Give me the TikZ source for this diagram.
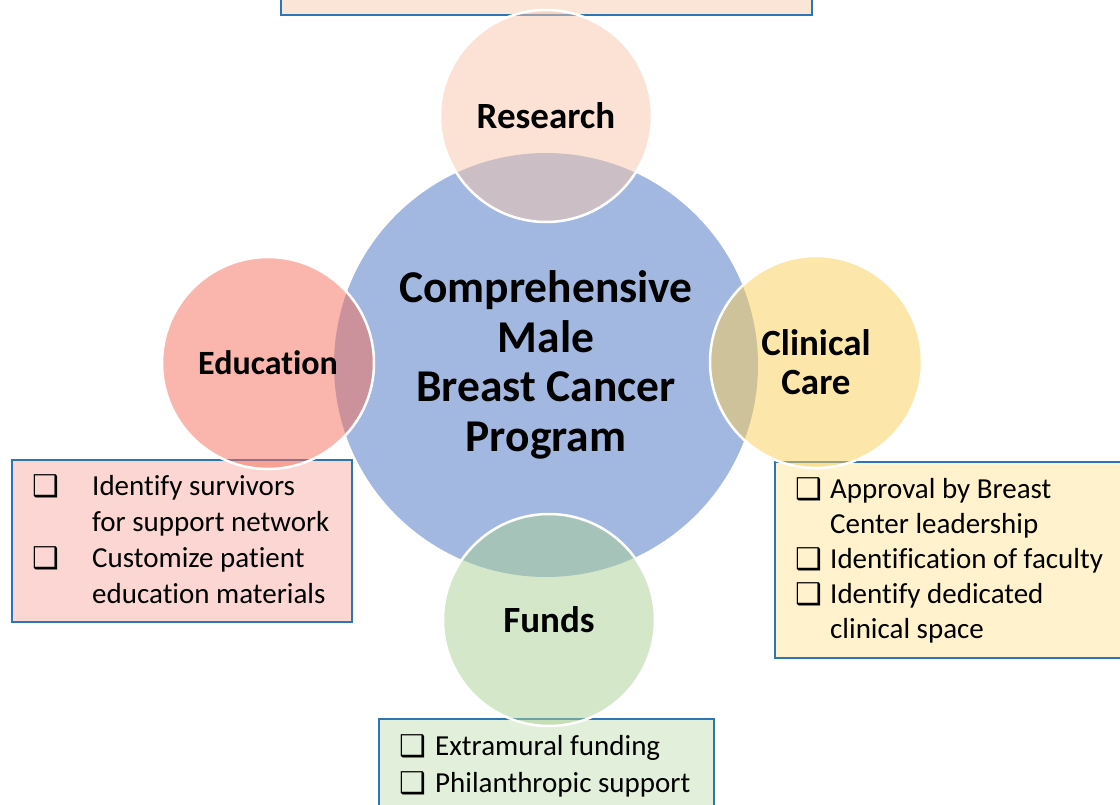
\documentclass[tikz,border=0pt]{standalone}
\usepackage{fontspec}
\setmainfont{Carlito}[Ligatures=NoCommon]
\newfontfamily\symfont{DejaVu Sans}
\definecolor{cblue}{RGB}{162,184,224}
\definecolor{cpeach}{RGB}{247,197,171}
\definecolor{cpink}{RGB}{245,109,89}
\definecolor{cgold}{RGB}{251,205,85}
\definecolor{cgreen}{RGB}{171,207,147}
\definecolor{bpeach}{RGB}{251,229,214}
\definecolor{bpink}{RGB}{252,214,210}
\definecolor{bgold}{RGB}{255,242,204}
\definecolor{bgreen}{RGB}{226,239,218}
\definecolor{cborder}{RGB}{46,117,182}
\begin{document}
\begin{tikzpicture}[x=1pt,y=-1pt,
  bigc/.style={circle, minimum size=424pt, inner sep=0pt, fill=cblue, align=center,
    font=\fontsize{45.5}{49.5}\selectfont\bfseries},
  smallc/.style={circle, minimum size=212pt, inner sep=0pt, fill opacity=0.5, text opacity=1,
    draw=white, draw opacity=1, line width=2.5pt, align=center,
    font=\fontsize{37}{39}\selectfont\bfseries},
  infobox/.style={draw=cborder, line width=1.5pt, inner sep=0pt},
  itemtext/.style={anchor=base west, inner sep=0pt, font=\fontsize{29}{35}\selectfont},
  bul/.style={anchor=base west, inner sep=0pt, font=\symfont\bfseries\fontsize{30}{30}\selectfont}
]
\useasboundingbox (0,0) rectangle (1120,804);
% boxes
\node[infobox, fill=bpeach, minimum width=531pt, minimum height=40pt] (resbox) at (546.5,-5) {};
\node[infobox, fill=bpink, minimum width=340pt, minimum height=162pt] (edubox) at (182,541) {};
\node[infobox, fill=bgold, minimum width=360pt, minimum height=196pt] (clinbox) at (955,560) {};
\node[infobox, fill=bgreen, minimum width=335pt, minimum height=110pt] (fundbox) at (546.5,774) {};
% box texts
\node[bul] (eb1) at (32,496) {❑};
\node[itemtext] (et1) at (92,495) {Identify survivors};
\node[itemtext] (et2) at (92,531) {for support network};
\node[bul] (eb2) at (32,568) {❑};
\node[itemtext] (et3) at (92,567) {Customize patient};
\node[itemtext] (et4) at (92,603) {education materials};
\node[bul] (cb1) at (795,499) {❑};
\node[itemtext] (ct1) at (830,498) {Approval by Breast};
\node[itemtext] (ct2) at (830,533) {Center leadership};
\node[bul] (cb2) at (795,569) {❑};
\node[itemtext] (ct3) at (830,568) {Identification of faculty};
\node[bul] (cb3) at (795,604) {❑};
\node[itemtext] (ct4) at (830,603) {Identify dedicated};
\node[itemtext] (ct5) at (830,638) {clinical space};
\node[bul] (fb1) at (399,756) {❑};
\node[itemtext] (ft1) at (435,755) {Extramural funding};
\node[bul] (fb2) at (399,793) {❑};
\node[itemtext] (ft2) at (435,792) {Philanthropic support};
% circles
\node[bigc] (main) at (546,365) {Comprehensive\\Male\\Breast Cancer\\Program};
\node[smallc, fill=cpeach] (research) at (546,116) {Research};
\node[smallc, fill=cpink, font=\fontsize{34}{38}\selectfont\bfseries] (education) at (268,363) {Education};
\node[smallc, fill=cgold] (clinical) at (816,362) {Clinical\\Care};
\node[smallc, fill=cgreen] (funds) at (549,620) {Funds};
\end{tikzpicture}
\end{document}
